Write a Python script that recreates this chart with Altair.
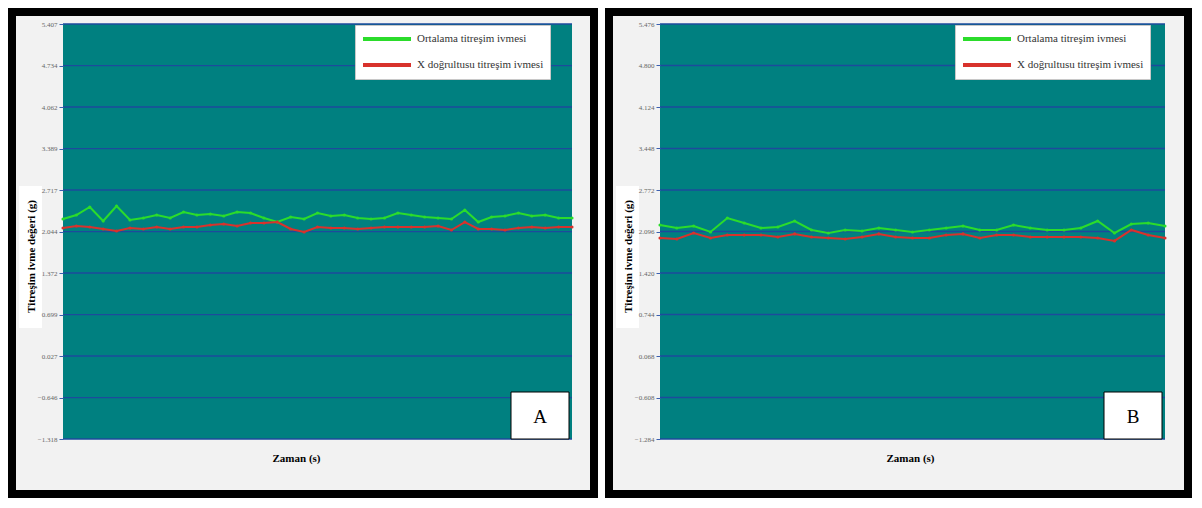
import altair as alt
import pandas as pd

SERIES = ["Ortalama titreşim ivmesi", "X doğrultusu titreşim ivmesi"]
COLORS = ["#2bdc2b", "#d8322c"]

# Panel A
a_ortalama = [2.247, 2.312, 2.442, 2.215, 2.458, 2.231, 2.263, 2.312, 2.263, 2.360,
              2.312, 2.328, 2.296, 2.360, 2.344, 2.263, 2.198, 2.279, 2.247, 2.344,
              2.296, 2.312, 2.263, 2.247, 2.263, 2.344, 2.312, 2.279, 2.263, 2.247,
              2.393, 2.198, 2.279, 2.296, 2.344, 2.296, 2.312, 2.263, 2.263]
a_xdog = [2.101, 2.134, 2.117, 2.085, 2.053, 2.101, 2.085, 2.117, 2.085, 2.117,
          2.117, 2.150, 2.166, 2.134, 2.182, 2.182, 2.198, 2.085, 2.036, 2.117,
          2.101, 2.101, 2.085, 2.101, 2.117, 2.117, 2.117, 2.117, 2.134, 2.069,
          2.198, 2.085, 2.085, 2.069, 2.101, 2.117, 2.101, 2.117, 2.117]
a_ticks = [-1.318, -0.646, 0.027, 0.699, 1.372, 2.044, 2.717, 3.389, 4.062, 4.734, 5.407]

# Panel B
b_ortalama = [2.202, 2.153, 2.186, 2.088, 2.316, 2.234, 2.153, 2.169, 2.267, 2.121,
              2.072, 2.121, 2.104, 2.153, 2.121, 2.088, 2.121, 2.153, 2.186, 2.121,
              2.121, 2.202, 2.153, 2.121, 2.121, 2.153, 2.267, 2.072, 2.218, 2.234,
              2.186]
b_xdog = [1.990, 1.974, 2.072, 1.990, 2.039, 2.039, 2.039, 2.007, 2.056, 2.007,
          1.990, 1.974, 2.007, 2.056, 2.007, 1.990, 1.990, 2.039, 2.056, 1.990,
          2.039, 2.039, 2.007, 2.007, 2.007, 2.007, 1.990, 1.942, 2.121, 2.039,
          1.990]
b_ticks = [-1.284, -0.608, 0.068, 0.744, 1.420, 2.096, 2.772, 3.448, 4.124, 4.800, 5.476]

PANEL_LABELS = ["A", "B"]
Y_TITLE = "Titreşim ivme değeri (g)"
X_TITLE = "Zaman (s)"
SERIF = "Liberation Serif"


def long_df(avg, xdir):
    rows = []
    for i, v in enumerate(avg):
        rows.append({"t": i, "seri": SERIES[0], "deger": v})
    for i, v in enumerate(xdir):
        rows.append({"t": i, "seri": SERIES[1], "deger": v})
    return pd.DataFrame(rows)


def panel(avg, xdir, ticks, label, W, H, legend_x, xtitle_x, frame_r):
    df = long_df(avg, xdir)
    n = len(avg)
    one = pd.DataFrame({"k": [0]})
    xs = alt.Scale(domain=[0, n - 1], nice=False, zero=False)
    ys = alt.Scale(domain=[ticks[0], ticks[-1]], nice=False, zero=False)

    yaxis = alt.Axis(values=ticks, format=".3f", grid=False, domain=False,
                     tickColor="#3a5fb0", tickSize=4, labelFont=SERIF,
                     labelFontSize=7, labelColor="#666666", labelPadding=2,
                     labelFlush=False,
                     title=Y_TITLE, titleFont=SERIF, titleFontWeight="bold",
                     titleFontSize=11, titleColor="black", titleX=-32, titleY=232,
                     titleAngle=270, titleAlign="center", titleBaseline="middle",
                     zindex=1)
    xaxis = alt.Axis(title=X_TITLE, labels=False, ticks=False, domain=False,
                     grid=False, titleFont=SERIF, titleFontWeight="bold",
                     titleFontSize=11, titleColor="black", titleX=xtitle_x,
                     titleY=19, titleAlign="center", titleBaseline="middle",
                     zindex=1)

    frame = alt.Chart(one).mark_rect(fill="#f2f2f2", stroke="black", strokeWidth=8).encode(
        x=alt.value(-51), x2=alt.value(W + frame_r), y=alt.value(-12), y2=alt.value(H + 55))
    plot_bg = alt.Chart(one).mark_rect(fill="#008080").encode(
        x=alt.value(0), x2=alt.value(W), y=alt.value(0), y2=alt.value(H))
    title_bg = alt.Chart(one).mark_rect(fill="white").encode(
        x=alt.value(-44), x2=alt.value(-21), y=alt.value(162), y2=alt.value(304))
    grid = alt.Chart(pd.DataFrame({"v": ticks})).mark_rule(color="#1d4a9c", strokeWidth=1.3).encode(
        y=alt.Y("v:Q", scale=ys, axis=yaxis))

    color = alt.Color("seri:N", scale=alt.Scale(domain=SERIES, range=COLORS),
                      legend=alt.Legend(title=None, orient="none", legendX=legend_x, legendY=1,
                                        fillColor="white", strokeColor="#c8c8c8", padding=6,
                                        symbolType="M-1,0H7", symbolSize=144,
                                        symbolStrokeWidth=4, labelOffset=40, rowPadding=10,
                                        labelFont=SERIF, labelFontSize=11,
                                        labelColor="#333333", labelLimit=0, zindex=1))
    lines = alt.Chart(df).mark_line().encode(
        x=alt.X("t:Q", scale=xs, axis=xaxis),
        y=alt.Y("deger:Q", scale=ys, axis=yaxis),
        color=color,
    )
    points = alt.Chart(df).mark_circle(size=10, opacity=1).encode(
        x=alt.X("t:Q", scale=xs, axis=xaxis),
        y=alt.Y("deger:Q", scale=ys, axis=yaxis),
        color=alt.Color("seri:N", scale=alt.Scale(domain=SERIES, range=COLORS), legend=None),
    )
    lab_box = alt.Chart(one).mark_rect(fill="white", stroke="black", strokeWidth=1).encode(
        x=alt.value(W - 61), x2=alt.value(W - 3), y=alt.value(H - 47), y2=alt.value(H))
    lab_txt = alt.Chart(one).mark_text(text=label, font=SERIF, fontSize=19, color="black",
                                       align="center", baseline="middle").encode(
        x=alt.value(W - 32), y=alt.value(H - 22))

    return alt.layer(frame, plot_bg, grid, title_bg, lines, points, lab_box, lab_txt).properties(
        width=W, height=H)


pa = panel(a_ortalama, a_xdog, a_ticks, PANEL_LABELS[0], 509, 415, 292, 233, 22)
pb = panel(b_ortalama, b_xdog, b_ticks, PANEL_LABELS[1], 505, 415, 295, 250, 23)

chart = alt.hconcat(pa, pb, spacing=7).resolve_scale(
    color="independent", x="independent", y="independent"
).resolve_legend(color="independent").properties(
    padding=0, background="white"
).configure_view(stroke=None)

chart.save("out.html", embed_options={"renderer": "svg", "actions": False})
